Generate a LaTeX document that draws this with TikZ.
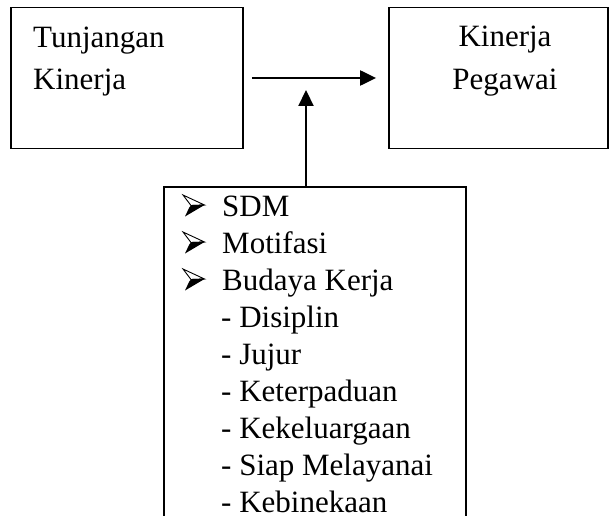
\documentclass[tikz,border=0pt]{standalone}
\usepackage{fontspec}
\setmainfont{Liberation Serif}
\usetikzlibrary{arrows.meta}
\tikzset{
  boxline/.style={draw=black, line width=1.8pt},
  frame/.style={boxline, minimum width=#1, inner sep=0pt, minimum height=141pt, rectangle},
  arr/.style={line width=2.2pt, -{Triangle[length=16pt,width=15pt]}},
  txt/.style={inner sep=0pt, anchor=base west, font=\fontsize{31}{37}\selectfont},
  ctxt/.style={inner sep=0pt, anchor=base, font=\fontsize{31}{37}\selectfont},
  arrowbullet/.pic={
    \draw[line width=0.9pt, line join=miter, fill=white] (0,-21) -- (21.5,-11) -- (8,-10.5) -- cycle;
    \fill[black, line join=miter] (8,-10.5) -- (21.5,-11) -- (2,0.5) -- (6.5,-9) -- cycle;
    \draw[line width=0.9pt] (8,-10.5) -- (21.5,-11);
  }
}
\begin{document}
\begin{tikzpicture}[x=1pt,y=-1pt]
\useasboundingbox (0,0) rectangle (610,516);
% top boxes
\node[frame=232pt] (tkbox) at (127,78) {};
\node[frame=219pt] (kpbox) at (498.5,78) {};
\node[txt] (tk1) at (33,48) {Tunjangan};
\node[txt] (tk2) at (33,90) {Kinerja};
\node[ctxt] (kp1) at (505,47) {Kinerja};
\node[ctxt] (kp2) at (505,90) {Pegawai};
% bottom open box
\coordinate (fbl) at (164,516);
\coordinate (ftl) at (164,187);
\coordinate (ftr) at (466,187);
\coordinate (fbr) at (466,516);
\draw[boxline] (fbl) -- (ftl) -- (ftr) -- (fbr);
% arrows
\draw[arr] ([xshift=8pt]tkbox.east) -- ([xshift=-12pt]kpbox.west);
\coordinate (fin) at (306,187);
\coordinate (jn) at (306,90);
\draw[arr] (fin) -- (jn);
% list
\coordinate (b1) at (183,216);
\coordinate (b2) at (183,253);
\coordinate (b3) at (183,290);
\pic at (b1) {arrowbullet};
\pic at (b2) {arrowbullet};
\pic at (b3) {arrowbullet};
\node[txt] (l1) at (222,216) {SDM};
\node[txt] (l2) at (222,253) {Motifasi};
\node[txt] (l3) at (222,290) {Budaya Kerja};
\node[txt] (l4) at (221,327) {- Disiplin};
\node[txt] (l5) at (221,364) {- Jujur};
\node[txt] (l6) at (221,401) {- Keterpaduan};
\node[txt] (l7) at (221,438) {- Kekeluargaan};
\node[txt] (l8) at (221,475) {- Siap Melayanai};
\node[txt] (l9) at (221,512) {- Kebinekaan};
\end{tikzpicture}
\end{document}
